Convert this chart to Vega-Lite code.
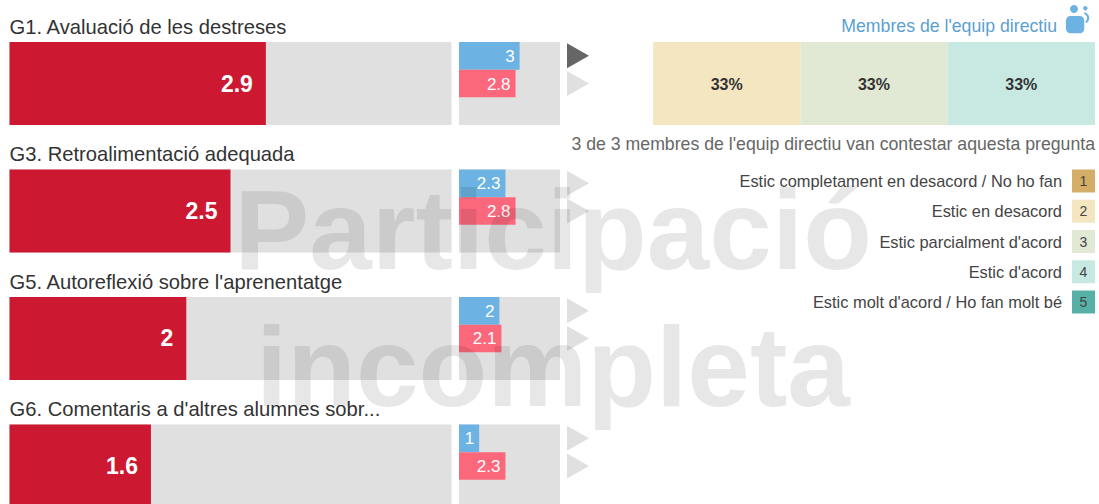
{
"$schema":"https://vega.github.io/schema/vega-lite/v6.json",
"width":1099,"height":504,"padding":0,"autosize":{"type":"none"},
"background":"white",
"config":{"view":{"stroke":null},"text":{"font":"Liberation Sans"},"axis":{"disable":true}},
"datasets":{
"grups":[
{"grup":"G1","titol":"G1. Avaluació de les destreses","centre":2.9},
{"grup":"G3","titol":"G3. Retroalimentació adequada","centre":2.5},
{"grup":"G5","titol":"G5. Autoreflexió sobre l'aprenentatge","centre":2},
{"grup":"G6","titol":"G6. Comentaris a d'altres alumnes sobr...","centre":1.6}],
"series":[
{"grup":"G1","serie":"equip","valor":3,"estat":"actiu"},
{"grup":"G1","serie":"alumnat","valor":2.8,"estat":"inactiu"},
{"grup":"G3","serie":"equip","valor":2.3,"estat":"inactiu"},
{"grup":"G3","serie":"alumnat","valor":2.8,"estat":"inactiu"},
{"grup":"G5","serie":"equip","valor":2,"estat":"inactiu"},
{"grup":"G5","serie":"alumnat","valor":2.1,"estat":"inactiu"},
{"grup":"G6","serie":"equip","valor":1,"estat":"inactiu"},
{"grup":"G6","serie":"alumnat","valor":2.3,"estat":"inactiu"}],
"respostes":[
{"grup":"G1","nivell":"2","pct":33.33,"text":"33%"},
{"grup":"G1","nivell":"3","pct":33.33,"text":"33%"},
{"grup":"G1","nivell":"4","pct":33.33,"text":"33%"}],
"llegenda":[
{"nivell":"1","text":"Estic completament en desacord / No ho fan"},
{"nivell":"2","text":"Estic en desacord"},
{"nivell":"3","text":"Estic parcialment d'acord"},
{"nivell":"4","text":"Estic d'acord"},
{"nivell":"5","text":"Estic molt d'acord / Ho fan molt bé"}],
"avis":[{"linia":"Participació"},{"linia":"incompleta"}],
"capcalera":[{"grup":"G1","peu":"3 de 3 membres de l'equip directiu van contestar aquesta pregunta","cap":"Membres de l'equip directiu"}]
},
"resolve":{"scale":{"x":"independent","y":"independent","color":"independent","yOffset":"independent"}},
"layer":[
{"data":{"name":"grups"},"mark":{"type":"bar","color":"#e0e0e0"},
 "encoding":{"x":{"datum":0,"type":"quantitative","scale":{"domain":[0,5],"range":[9.5,451.5]}},"x2":{"datum":5},
 "y":{"field":"grup","type":"nominal","scale":{"type":"band","domain":["G1","G3","G5","G6"],"range":[42,507.5],"paddingInner":0.349,"paddingOuter":0}}}},
{"data":{"name":"grups"},"mark":{"type":"bar","color":"#cc1830"},
 "encoding":{"x":{"field":"centre","type":"quantitative","scale":{"domain":[0,5],"range":[9.5,451.5]}},
 "y":{"field":"grup","type":"nominal","scale":{"type":"band","domain":["G1","G3","G5","G6"],"range":[42,507.5],"paddingInner":0.349,"paddingOuter":0}}}},
{"data":{"name":"grups"},"mark":{"type":"text","align":"right","baseline":"middle","dx":-13,"dy":1,"fontSize":23,"fontWeight":"bold","color":"white"},
 "encoding":{"x":{"field":"centre","type":"quantitative","scale":{"domain":[0,5],"range":[9.5,451.5]}},"text":{"field":"centre","type":"nominal"},
 "y":{"field":"grup","type":"nominal","scale":{"type":"band","domain":["G1","G3","G5","G6"],"range":[42,507.5],"paddingInner":0.349,"paddingOuter":0}}}},
{"data":{"name":"grups"},"mark":{"type":"text","align":"left","baseline":"middle","dy":-14,"fontSize":20.2,"color":"#333333"},
 "encoding":{"x":{"datum":0,"type":"quantitative","scale":{"domain":[0,5],"range":[9.5,451.5]}},"text":{"field":"titol","type":"nominal"},
 "y":{"field":"grup","type":"nominal","bandPosition":0,"scale":{"type":"band","domain":["G1","G3","G5","G6"],"range":[42,507.5],"paddingInner":0.349,"paddingOuter":0}}}},
{"data":{"name":"grups"},"mark":{"type":"bar","color":"#e0e0e0"},
 "encoding":{"x":{"datum":0,"type":"quantitative","scale":{"domain":[0,5],"range":[459,560]}},"x2":{"datum":5},
 "y":{"field":"grup","type":"nominal","scale":{"type":"band","domain":["G1","G3","G5","G6"],"range":[42,507.5],"paddingInner":0.349,"paddingOuter":0}}}},
{"data":{"name":"series"},"mark":{"type":"bar"},
 "encoding":{"x":{"field":"valor","type":"quantitative","scale":{"domain":[0,5],"range":[459,560]}},
 "y":{"field":"grup","type":"nominal","scale":{"type":"band","domain":["G1","G3","G5","G6"],"range":[42,507.5],"paddingInner":0.349,"paddingOuter":0}},
 "yOffset":{"field":"serie","type":"nominal","scale":{"type":"band","domain":["equip","alumnat","buit"],"paddingInner":0,"paddingOuter":0}},
 "color":{"field":"serie","type":"nominal","legend":null,"scale":{"domain":["equip","alumnat"],"range":["#6cb3e3","#fb687c"]}}}},
{"data":{"name":"series"},"mark":{"type":"text","align":"right","baseline":"middle","dx":-5,"dy":1,"fontSize":17,"color":"white"},
 "encoding":{"x":{"field":"valor","type":"quantitative","scale":{"domain":[0,5],"range":[459,560]}},"text":{"field":"valor","type":"nominal"},
 "y":{"field":"grup","type":"nominal","scale":{"type":"band","domain":["G1","G3","G5","G6"],"range":[42,507.5],"paddingInner":0.349,"paddingOuter":0}},
 "yOffset":{"field":"serie","type":"nominal","scale":{"type":"band","domain":["equip","alumnat","buit"],"paddingInner":0,"paddingOuter":0}}}},
{"data":{"name":"series"},"mark":{"type":"point","filled":true,"opacity":1,"size":484,"shape":"M-1,-1.14L1,0L-1,1.14Z"},
 "encoding":{"x":{"datum":0.5,"type":"quantitative","scale":{"domain":[0,1],"range":[567,589]}},
 "y":{"field":"grup","type":"nominal","scale":{"type":"band","domain":["G1","G3","G5","G6"],"range":[42,507.5],"paddingInner":0.349,"paddingOuter":0}},
 "yOffset":{"field":"serie","type":"nominal","scale":{"type":"band","domain":["equip","alumnat","buit"],"paddingInner":0,"paddingOuter":0}},
 "color":{"field":"estat","type":"nominal","legend":null,"scale":{"domain":["actiu","inactiu"],"range":["#666666","#e0e0e0"]}}}},
{"data":{"name":"respostes"},"mark":{"type":"bar"},
 "encoding":{"x":{"field":"pct","type":"quantitative","stack":"zero","scale":{"domain":[0,100],"range":[653,1095]}},
 "y":{"field":"grup","type":"nominal","scale":{"type":"band","domain":["G1","G3","G5","G6"],"range":[42,507.5],"paddingInner":0.349,"paddingOuter":0}},
 "order":{"field":"nivell"},
 "color":{"field":"nivell","type":"nominal","legend":null,"scale":{"domain":["1","2","3","4","5"],"range":["#d4ae66","#f5e6c2","#e1e8d3","#c7e9e2","#56b0a5"]}}}},
{"data":{"name":"respostes"},"mark":{"type":"text","baseline":"middle","align":"center","dy":1,"fontSize":16,"fontWeight":"bold","color":"#333333"},
 "encoding":{"x":{"field":"pct","type":"quantitative","stack":"zero","bandPosition":0.5,"scale":{"domain":[0,100],"range":[653,1095]}},
 "y":{"field":"grup","type":"nominal","scale":{"type":"band","domain":["G1","G3","G5","G6"],"range":[42,507.5],"paddingInner":0.349,"paddingOuter":0}},
 "order":{"field":"nivell"},"text":{"field":"text","type":"nominal"}}},
{"data":{"name":"capcalera"},"mark":{"type":"text","align":"right","baseline":"middle","dx":-38,"dy":-15,"fontSize":17.7,"color":"#5b9fd0"},
 "encoding":{"x":{"datum":100,"type":"quantitative","scale":{"domain":[0,100],"range":[653,1095]}},"text":{"field":"cap","type":"nominal"},
 "y":{"field":"grup","type":"nominal","bandPosition":0,"scale":{"type":"band","domain":["G1","G3","G5","G6"],"range":[42,507.5],"paddingInner":0.349,"paddingOuter":0}}}},
{"data":{"name":"capcalera"},"mark":{"type":"text","align":"right","baseline":"middle","dy":20,"fontSize":17.7,"color":"#666666"},
 "encoding":{"x":{"datum":100,"type":"quantitative","scale":{"domain":[0,100],"range":[653,1095]}},"text":{"field":"peu","type":"nominal"},
 "y":{"field":"grup","type":"nominal","bandPosition":1,"scale":{"type":"band","domain":["G1","G3","G5","G6"],"range":[42,507.5],"paddingInner":0.349,"paddingOuter":0}}}},
{"data":{"name":"capcalera"},"mark":{"type":"point","filled":true,"opacity":1,"size":1024,"color":"#6cb3e3","shape":"M-0.75,0.03A0.28,0.28 0 0 1 -0.47,-0.25L0.11,-0.25A0.28,0.28 0 0 1 0.39,0.03L0.39,0.55A0.28,0.28 0 0 1 0.11,0.83L-0.47,0.83A0.28,0.28 0 0 1 -0.75,0.55ZM-0.5,-0.69A0.25,0.25 0 1 1 0,-0.69A0.25,0.25 0 1 1 -0.5,-0.69ZM0.32,-0.73A0.14,0.14 0 1 1 0.6,-0.73A0.14,0.14 0 1 1 0.32,-0.73ZM0.4,-0.48A0.36,0.36 0 0 1 0.5,0.2L0.46,0.08A0.26,0.26 0 0 0 0.38,-0.38Z"},
 "encoding":{"x":{"datum":0.5,"type":"quantitative","scale":{"domain":[0,1],"range":[1062,1094]}},
 "y":{"datum":0.5,"type":"quantitative","scale":{"domain":[0,1],"range":[36,4]}}}},
{"data":{"name":"llegenda"},"mark":{"type":"bar"},
 "encoding":{"x":{"datum":0,"type":"quantitative","scale":{"domain":[0,1],"range":[1072,1095]}},"x2":{"datum":1},
 "y":{"field":"nivell","type":"nominal","scale":{"type":"band","domain":["1","2","3","4","5"],"range":[169.5,313.5],"paddingInner":0.24,"paddingOuter":0}},
 "color":{"field":"nivell","type":"nominal","legend":null,"scale":{"domain":["1","2","3","4","5"],"range":["#d4ae66","#f5e6c2","#e1e8d3","#c7e9e2","#56b0a5"]}}}},
{"data":{"name":"llegenda"},"mark":{"type":"text","baseline":"middle","align":"center","dy":1,"fontSize":14,"color":"#444444"},
 "encoding":{"x":{"datum":0.5,"type":"quantitative","scale":{"domain":[0,1],"range":[1072,1095]}},"text":{"field":"nivell","type":"nominal"},
 "y":{"field":"nivell","type":"nominal","scale":{"type":"band","domain":["1","2","3","4","5"],"range":[169.5,313.5],"paddingInner":0.24,"paddingOuter":0}}}},
{"data":{"name":"llegenda"},"mark":{"type":"text","baseline":"middle","align":"right","dx":-10,"dy":1,"fontSize":16.4,"color":"#444444"},
 "encoding":{"x":{"datum":0,"type":"quantitative","scale":{"domain":[0,1],"range":[1072,1095]}},"text":{"field":"text","type":"nominal"},
 "y":{"field":"nivell","type":"nominal","scale":{"type":"band","domain":["1","2","3","4","5"],"range":[169.5,313.5],"paddingInner":0.24,"paddingOuter":0}}}},
{"data":{"name":"avis"},"mark":{"type":"text","align":"center","baseline":"middle","fontSize":112.5,"fontWeight":"bold","color":"#000000","opacity":0.09},
 "encoding":{"x":{"datum":0.5,"type":"quantitative","scale":{"domain":[0,1],"range":[240,866]}},"text":{"field":"linia","type":"nominal"},
 "y":{"field":"linia","type":"nominal","scale":{"type":"band","domain":["Participació","incompleta"],"range":[166.5,440.5],"paddingInner":0,"paddingOuter":0}}}}
]
}
